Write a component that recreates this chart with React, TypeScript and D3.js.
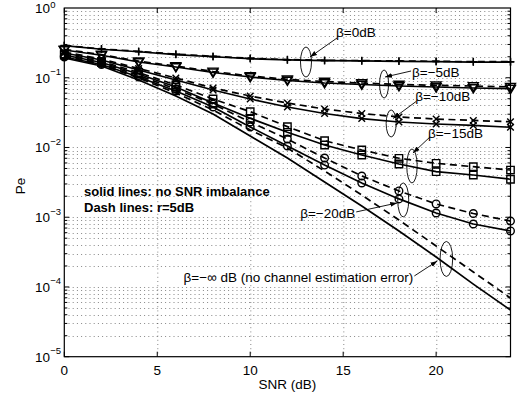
import { useEffect, useRef } from 'react';
import * as d3 from 'd3';

const snr = [0, 2, 4, 6, 8, 10, 12, 14, 16, 18, 20, 22, 24];

const pe0Solid = [0.288, 0.256, 0.236, 0.215, 0.2, 0.1875, 0.18, 0.1755, 0.174, 0.172, 0.17, 0.168, 0.168];
const pe0Dash = [0.291, 0.259, 0.239, 0.218, 0.203, 0.19, 0.182, 0.178, 0.176, 0.174, 0.172, 0.17, 0.17];
const pe5Solid = [0.25, 0.21, 0.168, 0.1426, 0.119, 0.1025, 0.0913, 0.0841, 0.08, 0.0761, 0.0736, 0.0713, 0.0696];
const pe5Dash = [0.255, 0.215, 0.173, 0.147, 0.123, 0.106, 0.095, 0.088, 0.084, 0.08, 0.078, 0.076, 0.074];
const pe10Solid = [0.2263, 0.1797, 0.1291, 0.0928, 0.0667, 0.0496, 0.0381, 0.0307, 0.026, 0.0232, 0.0217, 0.0207, 0.0195];
const pe10Dash = [0.2339, 0.1856, 0.1357, 0.0991, 0.0713, 0.0547, 0.0434, 0.0356, 0.0307, 0.0274, 0.0256, 0.0244, 0.0234];
const pe15Solid = [0.2119, 0.1654, 0.1131, 0.0736, 0.0434, 0.0262, 0.0165, 0.01085, 0.0078, 0.0058, 0.0045, 0.00403, 0.0035];
const pe15Dash = [0.2189, 0.1709, 0.1189, 0.0787, 0.0496, 0.0326, 0.0199, 0.0125, 0.0092, 0.007, 0.00593, 0.0053, 0.00475];
const pe20Solid = [0.1983, 0.1548, 0.1025, 0.0645, 0.0381, 0.0197, 0.0105, 0.0056, 0.0031, 0.00183, 0.00115, 0.0008, 0.000635];
const pe20Dash = [0.2049, 0.16, 0.1077, 0.0689, 0.042, 0.0232, 0.01323, 0.00706, 0.0039, 0.00238, 0.00155, 0.00113, 0.00088];
const peInfSolid = [0.1918, 0.1474, 0.0928, 0.0547, 0.0302, 0.0146, 0.00706, 0.0032, 0.00145, 0.000635, 0.000269, 0.00011, 0.0000467];
const peInfDash = [0.1983, 0.1523, 0.0991, 0.0604, 0.0345, 0.0178, 0.00983, 0.0046, 0.00208, 0.000912, 0.000387, 0.000164, 0.0000694];

const xTicks = [0, 5, 10, 15, 20];
const yExponents = [0, -1, -2, -3, -4, -5];

type Marker = 'plus' | 'tri' | 'x' | 'square' | 'circle' | 'none';

const series: { values: number[]; dashed: boolean; marker: Marker }[] = [
  { values: pe0Solid, dashed: false, marker: 'plus' },
  { values: pe0Dash, dashed: true, marker: 'plus' },
  { values: pe5Solid, dashed: false, marker: 'tri' },
  { values: pe5Dash, dashed: true, marker: 'tri' },
  { values: pe10Solid, dashed: false, marker: 'x' },
  { values: pe10Dash, dashed: true, marker: 'x' },
  { values: pe15Solid, dashed: false, marker: 'square' },
  { values: pe15Dash, dashed: true, marker: 'square' },
  { values: pe20Solid, dashed: false, marker: 'circle' },
  { values: pe20Dash, dashed: true, marker: 'circle' },
  { values: peInfSolid, dashed: false, marker: 'none' },
  { values: peInfDash, dashed: true, marker: 'none' },
];

// ellipse centre in data units; text / arrow as pixel offsets from it
const notes = [
  { label: 'β=0dB', snr: 13.0, pe: 0.168, rx: 5.5, ry: 15, tx: 30, ty: -25, anchor: 'start', ax: 31, ay: -24, bx: 4, by: -5 },
  { label: 'β=−5dB', snr: 17.2, pe: 0.0813, rx: 4.5, ry: 14, tx: 28, ty: -7, anchor: 'start', ax: 27, ay: -13, bx: 1, by: -7 },
  { label: 'β=−10dB', snr: 17.58, pe: 0.0221, rx: 5, ry: 13.5, tx: 24, ty: -22.5, anchor: 'start', ax: 25, ay: -22, bx: 2, by: -5 },
  { label: 'β=−15dB', snr: 18.7, pe: 0.00543, rx: 5.2, ry: 17, tx: 16, ty: -28, anchor: 'start', ax: 18, ay: -29, bx: 1, by: -13 },
  { label: 'β=−20dB', snr: 18.23, pe: 0.00177, rx: 5.5, ry: 17, tx: -48, ty: 18, anchor: 'end', ax: -47, ay: 12, bx: -6, by: 3 },
  { label: 'β=−∞ dB (no channel estimation error)', snr: 20.55, pe: 0.000252, rx: 6.3, ry: 17.5, tx: -33, ty: 23, anchor: 'end', ax: -32, ay: 17, bx: -9, by: 2 },
];

const FONT = "'Liberation Sans', Arial, Helvetica, sans-serif";

export default function App() {
  const svgRef = useRef<SVGSVGElement>(null);

  useEffect(() => {
    if (!svgRef.current) return;
    const width = 517;
    const height = 403;
    const margin = { top: 8, right: 6.5, bottom: 46.3, left: 64.3 };
    const W = width - margin.left - margin.right;
    const H = height - margin.top - margin.bottom;

    const svg = d3.select(svgRef.current);
    svg.selectAll('*').remove();
    svg.attr('width', width).attr('height', height);
    svg.append('rect').attr('width', width).attr('height', height).attr('fill', 'white');

    const defs = svg.append('defs');
    defs.append('marker').attr('id', 'arrowHead').attr('viewBox', '0 0 10 10')
      .attr('refX', 10).attr('refY', 5).attr('markerWidth', 7).attr('markerHeight', 7)
      .attr('markerUnits', 'userSpaceOnUse').attr('orient', 'auto')
      .append('path').attr('d', 'M0,1.5L10,5L0,8.5Z').attr('fill', '#000');

    const g = svg.append('g').attr('transform', `translate(${margin.left},${margin.top})`);

    const x = d3.scaleLinear().domain([0, 24]).range([0, W]);
    const y = d3.scaleLog().domain([1e-5, 1]).range([H, 0]);

    // grid
    const minor: number[] = [];
    yExponents.forEach((e) => {
      for (let k = 1; k < 10; k++) {
        const v = k * Math.pow(10, e);
        if (v < 1 && v >= 1e-5) minor.push(v);
      }
    });
    const grid = g.append('g').attr('stroke', '#000').attr('stroke-opacity', 0.6)
      .attr('stroke-width', 0.8).attr('stroke-dasharray', '1,3.2');
    minor.filter((v) => v > 1e-5).forEach((v) => {
      const yy = Math.round(y(v)) + 0.5;
      grid.append('line').attr('x1', 0).attr('x2', W).attr('y1', yy).attr('y2', yy);
    });
    xTicks.filter((t) => t > 0).forEach((t) => {
      const xx = Math.round(x(t)) + 0.5;
      grid.append('line').attr('x1', xx).attr('x2', xx).attr('y1', 0).attr('y2', H);
    });

    // ticks (inward, all four sides)
    const ticks = g.append('g').attr('stroke', '#000').attr('stroke-width', 1);
    minor.forEach((v) => {
      const major = Math.abs(Math.log10(v) - Math.round(Math.log10(v))) < 1e-9;
      const len = major ? 5 : 3;
      ticks.append('line').attr('x1', 0).attr('x2', len).attr('y1', y(v)).attr('y2', y(v));
      ticks.append('line').attr('x1', W).attr('x2', W - len).attr('y1', y(v)).attr('y2', y(v));
    });
    xTicks.forEach((t) => {
      ticks.append('line').attr('x1', x(t)).attr('x2', x(t)).attr('y1', H).attr('y2', H - 5);
      ticks.append('line').attr('x1', x(t)).attr('x2', x(t)).attr('y1', 0).attr('y2', 5);
    });

    // curves
    const line = d3.line<number>().x((_, i) => x(snr[i])).y((d) => y(d));
    series.forEach((s) => {
      g.append('path').datum(s.values).attr('fill', 'none').attr('stroke', '#000')
        .attr('stroke-width', 1.7).attr('stroke-dasharray', s.dashed ? '7,4.5' : null)
        .attr('d', line);
    });

    const markerPath: Record<string, string> = {
      plus: 'M-3.8,0H3.8M0,-3.8V3.8',
      x: 'M-3.3,-3.3L3.3,3.3M-3.3,3.3L3.3,-3.3',
      tri: 'M-5,-3.3L5,-3.3L0,5Z',
      square: 'M-3.7,-3.7H3.7V3.7H-3.7Z',
    };
    series.forEach((s) => {
      if (s.marker === 'none') return;
      s.values.forEach((v, i) => {
        const cx = x(snr[i]);
        const cy = y(v);
        if (s.marker === 'circle') {
          g.append('circle').attr('cx', cx).attr('cy', cy).attr('r', 3.8)
            .attr('fill', 'none').attr('stroke', '#000').attr('stroke-width', 1.4);
        } else {
          g.append('path').attr('transform', `translate(${cx},${cy})`).attr('d', markerPath[s.marker])
            .attr('fill', 'none').attr('stroke', '#000').attr('stroke-width', 1.4);
        }
      });
    });

    // box
    g.append('rect').attr('width', W).attr('height', H).attr('fill', 'none')
      .attr('stroke', '#000').attr('stroke-width', 1.2);

    // tick labels
    xTicks.forEach((t) => {
      g.append('text').attr('x', x(t)).attr('y', H + 18.5).attr('text-anchor', 'middle')
        .attr('font-family', FONT).attr('font-size', 13.5).text(String(t));
    });
    yExponents.forEach((e) => {
      const yy = y(Math.pow(10, e));
      g.append('text').attr('x', -14.3).attr('y', yy + 4.8).attr('text-anchor', 'end')
        .attr('font-family', FONT).attr('font-size', 13.5).text('10');
      g.append('text').attr('x', -14).attr('y', Math.max(yy - 2.5, -0.5)).attr('text-anchor', 'start')
        .attr('font-family', FONT).attr('font-size', 9.5).text(e === 0 ? '0' : `−${-e}`);
    });

    // axis labels
    svg.append('text').attr('x', margin.left + W / 2).attr('y', 389).attr('text-anchor', 'middle')
      .attr('font-family', FONT).attr('font-size', 13.5).text('SNR (dB)');
    svg.append('text').attr('transform', `translate(25,186) rotate(-90)`).attr('text-anchor', 'middle')
      .attr('font-family', FONT).attr('font-size', 13.5).text('Pe');

    // in-plot notes
    g.append('text').attr('x', x(1.06)).attr('y', 188).attr('font-family', FONT)
      .attr('font-size', 13).attr('font-weight', 'bold').text('solid lines: no SNR imbalance');
    g.append('text').attr('x', x(1.06)).attr('y', 203.7).attr('font-family', FONT)
      .attr('font-size', 13).attr('font-weight', 'bold').text('Dash lines: r=5dB');

    notes.forEach((n) => {
      const cx = x(n.snr);
      const cy = y(n.pe);
      g.append('ellipse').attr('cx', cx).attr('cy', cy).attr('rx', n.rx).attr('ry', n.ry)
        .attr('fill', 'none').attr('stroke', '#000').attr('stroke-width', 0.9);
      g.append('line').attr('x1', cx + n.ax).attr('y1', cy + n.ay).attr('x2', cx + n.bx).attr('y2', cy + n.by)
        .attr('stroke', '#000').attr('stroke-width', 0.9).attr('marker-end', 'url(#arrowHead)');
      g.append('text').attr('x', cx + n.tx).attr('y', cy + n.ty).attr('text-anchor', n.anchor)
        .attr('font-family', FONT).attr('font-size', 13.5).text(n.label);
    });
  }, []);

  return (
    <svg ref={svgRef} style={{ position: 'absolute', left: 0, top: 0, display: 'block' }} />
  );
}
